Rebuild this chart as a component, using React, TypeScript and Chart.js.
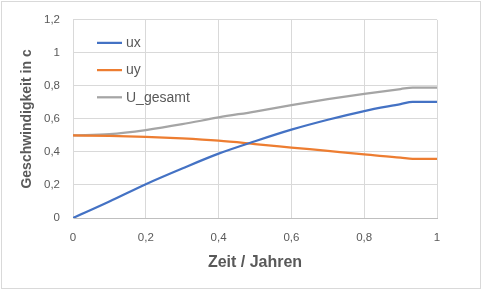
import React, { useEffect, useRef } from "react";
import { Chart, registerables } from "chart.js";

Chart.register(...registerables);

const timeValues = [0, 0.1, 0.2, 0.3, 0.4, 0.5, 0.6, 0.7, 0.8, 0.9, 0.933, 1];
const uxValues = [0, 0.1, 0.205, 0.3, 0.39, 0.465, 0.535, 0.595, 0.648, 0.69, 0.704, 0.704];
const uyValues = [0.5, 0.498, 0.492, 0.482, 0.468, 0.448, 0.427, 0.406, 0.385, 0.366, 0.358, 0.358];
const uGesamtValues = [0.5, 0.508, 0.533, 0.568, 0.609, 0.645, 0.684, 0.72, 0.752, 0.781, 0.79, 0.79];
const seriesLabels = ["ux", "uy", "U_gesamt"];
const seriesColors = ["#4472C4", "#ED7D31", "#A5A5A5"];
const xAxisTitle = "Zeit / Jahren";
const yAxisTitle = "Geschwindigkeit in c";

const fmt = (v: number) => String(Math.round(v * 10) / 10).replace(".", ",");

const insideLegend = {
  id: "insideLegend",
  afterDatasetsDraw(chart: any) {
    const ctx = chart.ctx;
    const area = chart.chartArea;
    chart.data.datasets.forEach((ds: any, i: number) => {
      const y = area.top + 23 + i * 27.2;
      const x0 = area.left + 24;
      ctx.save();
      ctx.strokeStyle = ds.borderColor;
      ctx.lineWidth = 2.25;
      ctx.beginPath();
      ctx.moveTo(x0, y);
      ctx.lineTo(x0 + 25, y);
      ctx.stroke();
      ctx.fillStyle = "#595959";
      ctx.font = "14px 'Liberation Sans'";
      ctx.textBaseline = "middle";
      ctx.textAlign = "left";
      ctx.fillText(ds.label, x0 + 29, y + 0.5);
      ctx.restore();
    });
  },
};

export default function App() {
  const ref = useRef<HTMLCanvasElement>(null);
  useEffect(() => {
    if (!ref.current) return;
    const series = [uxValues, uyValues, uGesamtValues];
    const chart = new Chart(ref.current, {
      type: "line",
      data: {
        datasets: series.map((vals, i) => ({
          label: seriesLabels[i],
          data: vals.map((v, j) => ({ x: timeValues[j], y: v })),
          borderColor: seriesColors[i],
          backgroundColor: seriesColors[i],
          borderWidth: 2.25,
          pointRadius: 0,
          cubicInterpolationMode: "monotone" as const,
          fill: false,
        })),
      },
      options: {
        responsive: false,
        animation: false,
        devicePixelRatio: 1,
        layout: { padding: { top: 17, right: 46, bottom: 0, left: 0 } },
        plugins: { legend: { display: false }, tooltip: { enabled: false } },
        scales: {
          x: {
            type: "linear",
            min: 0,
            max: 1,
            ticks: {
              stepSize: 0.2,
              padding: 13,
              color: "#595959",
              font: { family: "'Liberation Sans'", size: 11.5 },
              callback: (v: any) => fmt(Number(v)),
            },
            grid: { color: "#D9D9D9", drawTicks: false },
            border: { color: "#BFBFBF" },
            title: {
              display: true,
              text: xAxisTitle,
              color: "#595959",
              font: { family: "'Liberation Sans'", size: 16, weight: "bold" },
              padding: { top: 0, bottom: 18.5 },
            },
            afterFit: (s: any) => {
              s.height = 73;
            },
          },
          y: {
            min: 0,
            max: 1.2,
            ticks: {
              stepSize: 0.2,
              padding: 13,
              color: "#595959",
              font: { family: "'Liberation Sans'", size: 11.5 },
              callback: (v: any) => fmt(Number(v)),
            },
            grid: { color: "#D9D9D9", drawTicks: false },
            border: { color: "#D9D9D9" },
            title: {
              display: true,
              text: yAxisTitle,
              color: "#595959",
              font: { family: "'Liberation Sans'", size: 14, weight: "bold" },
              padding: { top: 19, bottom: 0 },
            },
            afterFit: (s: any) => {
              s.width = 73;
            },
          },
        },
      },
      plugins: [insideLegend],
    });
    return () => chart.destroy();
  }, []);
  return (
    <div style={{ position: "fixed", left: 0, top: 0, width: 483, height: 291, background: "#fff" }}>
      <div
        style={{
          position: "absolute",
          left: 1,
          top: 1,
          width: 480,
          height: 288,
          border: "1px solid #D9D9D9",
          boxSizing: "border-box",
        }}
      />
      <canvas ref={ref} width={483} height={291} style={{ position: "absolute", left: 0, top: 0 }} />
    </div>
  );
}
